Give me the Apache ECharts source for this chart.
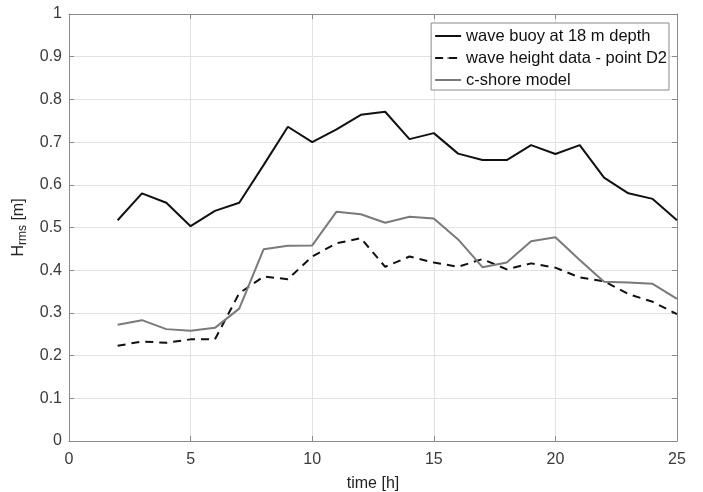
<!DOCTYPE html>
<html>
<head>
<meta charset="utf-8">
<script src="https://cdn.jsdelivr.net/npm/echarts@6/dist/echarts.min.js"></script>
<style>html,body{margin:0;padding:0;background:#fff}#c{width:703px;height:492px}</style>
</head>
<body>
<div id="c"></div>
<script>
const hours = [2,3,4,5,6,7,8,9,10,11,12,13,14,15,16,17,18,19,20,21,22,23,24,25];
const buoy = [0.517,0.580,0.558,0.503,0.539,0.558,0.646,0.736,0.700,0.730,0.764,0.771,0.707,0.721,0.673,0.658,0.658,0.693,0.672,0.693,0.617,0.580,0.567,0.517];
const pointD2 = [0.223,0.233,0.230,0.238,0.238,0.346,0.385,0.379,0.432,0.463,0.475,0.408,0.432,0.418,0.408,0.426,0.402,0.416,0.406,0.383,0.374,0.344,0.326,0.297];
const cshore = [0.272,0.283,0.262,0.258,0.265,0.310,0.449,0.457,0.458,0.537,0.531,0.511,0.525,0.521,0.472,0.407,0.418,0.468,0.477,0.424,0.373,0.371,0.368,0.333];
const seriesNames = ['wave buoy at 18 m depth','wave height data - point D2','c-shore model'];

const font = 'Liberation Sans, Arial, sans-serif';
const axisColor = '#8a8a8a';
const labelColor = '#3a3a3a';
const pair = arr => hours.map((h,i)=>[h,arr[i]]);

const chart = echarts.init(document.getElementById('c'), null, {renderer:'canvas'});
chart.setOption({
  animation:false,
  backgroundColor:'#fff',
  grid:{left:69,right:26,top:14,bottom:51,containLabel:false,outerBoundsMode:'none'},
  legend:{
    right:34, top:23, orient:'vertical', itemGap:4, itemWidth:26, itemHeight:2,
    padding:[4,2,1,3],
    backgroundColor:'#fff', borderColor:'#8a8a8a', borderWidth:1,
    textStyle:{fontFamily:font,fontSize:16.5,lineHeight:18,color:'#111'},
    data:seriesNames
  },
  xAxis:[{
    type:'value', min:0, max:25, interval:5,
    axisLine:{show:true,onZero:false,lineStyle:{color:axisColor,width:1}},
    axisTick:{show:true,inside:true,length:5,lineStyle:{color:axisColor}},
    axisLabel:{color:labelColor,fontFamily:font,fontSize:16,margin:11},
    splitLine:{show:true,lineStyle:{color:'#e2e2e2',width:1}},
    name:'time [h]', nameLocation:'middle', nameGap:35,
    nameTextStyle:{color:'#222',fontFamily:font,fontSize:16}
  },{
    type:'value', min:0, max:25, interval:5, position:'top',
    axisLine:{show:true,onZero:false,lineStyle:{color:axisColor,width:1}},
    axisTick:{show:true,inside:true,length:5,lineStyle:{color:axisColor}},
    axisLabel:{show:false}, splitLine:{show:false}
  }],
  yAxis:[{
    type:'value', min:0, max:1, interval:0.1,
    axisLine:{show:true,onZero:false,lineStyle:{color:axisColor,width:1}},
    axisTick:{show:true,inside:true,length:5,lineStyle:{color:axisColor}},
    axisLabel:{color:labelColor,fontFamily:font,fontSize:16,margin:7},
    splitLine:{show:true,lineStyle:{color:'#e2e2e2',width:1}},
    name:'{h|H}{s|rms}{h| [m]}', nameLocation:'middle', nameGap:38, nameRotate:90,
    nameTextStyle:{fontFamily:font,color:'#222',
      rich:{h:{fontSize:16,fontFamily:font,color:'#222'},s:{fontSize:12,fontFamily:font,color:'#222',verticalAlign:'bottom',padding:[8,0,0,0]}}}
  },{
    type:'value', min:0, max:1, interval:0.1, position:'right',
    axisLine:{show:true,onZero:false,lineStyle:{color:axisColor,width:1}},
    axisTick:{show:true,inside:true,length:5,lineStyle:{color:axisColor}},
    axisLabel:{show:false}, splitLine:{show:false}
  }],
  series:[
    {name:seriesNames[0],type:'line',data:pair(buoy),showSymbol:false,symbol:'none',
      lineStyle:{color:'#111',width:2},itemStyle:{color:'#111'}},
    {name:seriesNames[1],type:'line',data:pair(pointD2),showSymbol:false,symbol:'none',
      lineStyle:{color:'#111',width:2,type:[8,6]},itemStyle:{color:'#111'}},
    {name:seriesNames[2],type:'line',data:pair(cshore),showSymbol:false,symbol:'none',
      lineStyle:{color:'#7a7a7a',width:2},itemStyle:{color:'#7a7a7a'}}
  ]
});
</script>
</body>
</html>
